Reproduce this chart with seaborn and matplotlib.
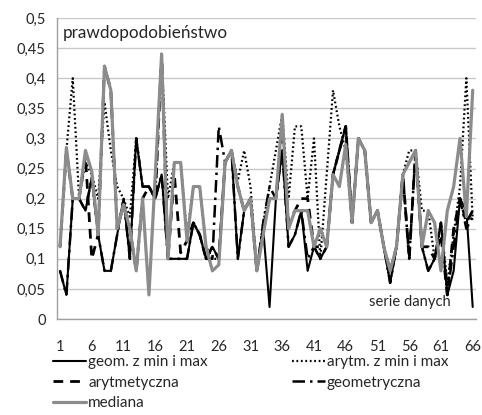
import matplotlib
matplotlib.use("Agg")
import matplotlib.pyplot as plt
import seaborn as sns
import pandas as pd

seria = list(range(1, 67))

geom_min_max = [
    0.08, 0.04, 0.20, 0.20, 0.18, 0.235, 0.14, 0.08, 0.08, 0.14,
    0.20, 0.10, 0.30, 0.22, 0.22, 0.20, 0.24, 0.10, 0.10, 0.10,
    0.10, 0.16, 0.14, 0.10, 0.12, 0.10, 0.26, 0.28, 0.10, 0.18,
    0.20, 0.08, 0.15, 0.02, 0.20, 0.28, 0.12, 0.14, 0.18, 0.08,
    0.12, 0.10, 0.12, 0.24, 0.28, 0.32, 0.16, 0.30, 0.28, 0.16,
    0.18, 0.12, 0.06, 0.12, 0.24, 0.26, 0.28, 0.12, 0.08, 0.10,
    0.16, 0.04, 0.08, 0.20, 0.18, 0.02]

arytm_min_max = [
    0.12, 0.28, 0.40, 0.20, 0.26, 0.24, 0.20, 0.36, 0.28, 0.22,
    0.20, 0.17, 0.30, 0.22, 0.22, 0.20, 0.44, 0.20, 0.26, 0.26,
    0.14, 0.22, 0.22, 0.12, 0.10, 0.10, 0.26, 0.28, 0.23, 0.28,
    0.22, 0.08, 0.16, 0.22, 0.28, 0.34, 0.20, 0.32, 0.32, 0.20,
    0.30, 0.10, 0.24, 0.38, 0.32, 0.28, 0.16, 0.30, 0.28, 0.16,
    0.18, 0.12, 0.06, 0.12, 0.24, 0.28, 0.28, 0.18, 0.18, 0.10,
    0.16, 0.06, 0.14, 0.22, 0.40, 0.165]

arytmetyczna = [
    0.12, 0.28, 0.20, 0.20, 0.27, 0.10, 0.14, 0.42, 0.38, 0.15,
    0.19, 0.15, 0.08, 0.20, 0.22, 0.20, 0.44, 0.10, 0.24, 0.11,
    0.13, 0.16, 0.14, 0.10, 0.12, 0.10, 0.26, 0.28, 0.22, 0.18,
    0.20, 0.08, 0.15, 0.20, 0.20, 0.30, 0.16, 0.18, 0.20, 0.20,
    0.12, 0.12, 0.12, 0.24, 0.28, 0.32, 0.16, 0.30, 0.28, 0.16,
    0.18, 0.12, 0.08, 0.12, 0.24, 0.10, 0.28, 0.12, 0.12, 0.10,
    0.14, 0.04, 0.15, 0.20, 0.16, 0.18]

geometryczna = [
    0.08, 0.04, 0.20, 0.20, 0.18, 0.235, 0.14, 0.08, 0.08, 0.14,
    0.20, 0.10, 0.30, 0.22, 0.22, 0.20, 0.24, 0.10, 0.10, 0.10,
    0.10, 0.16, 0.14, 0.10, 0.10, 0.32, 0.26, 0.28, 0.10, 0.18,
    0.20, 0.08, 0.16, 0.22, 0.20, 0.28, 0.12, 0.14, 0.18, 0.10,
    0.12, 0.10, 0.12, 0.24, 0.28, 0.32, 0.16, 0.30, 0.28, 0.16,
    0.18, 0.12, 0.06, 0.12, 0.24, 0.10, 0.28, 0.12, 0.08, 0.10,
    0.16, 0.04, 0.12, 0.20, 0.15, 0.17]

mediana = [
    0.12, 0.285, 0.20, 0.20, 0.28, 0.245, 0.14, 0.42, 0.38, 0.15,
    0.19, 0.15, 0.08, 0.20, 0.04, 0.24, 0.44, 0.10, 0.26, 0.26,
    0.13, 0.22, 0.22, 0.12, 0.08, 0.09, 0.26, 0.28, 0.22, 0.18,
    0.20, 0.08, 0.14, 0.20, 0.20, 0.34, 0.15, 0.18, 0.18, 0.18,
    0.12, 0.15, 0.12, 0.24, 0.22, 0.29, 0.16, 0.30, 0.28, 0.16,
    0.18, 0.12, 0.08, 0.12, 0.24, 0.26, 0.28, 0.12, 0.18, 0.16,
    0.08, 0.18, 0.22, 0.30, 0.17, 0.38]

x_labels = [1, 6, 11, 16, 21, 26, 31, 36, 41, 46, 51, 56, 61, 66]
y_ticks = [0, 0.05, 0.1, 0.15, 0.2, 0.25, 0.3, 0.35, 0.4, 0.45, 0.5]

sns.set_style("white")
plt.rcParams['font.family'] = ['Lato', 'DejaVu Sans']

fig = plt.figure(figsize=(4.82, 4.15), dpi=100)
ax = fig.add_axes([0.118, 0.2313, 0.8693, 0.7253])

series = [
    ("geom. z min i max", geom_min_max, dict(color="black", lw=1.5, linestyle="-")),
    ("arytmetyczna", arytmetyczna, dict(color="black", lw=2.0, linestyle=(0, (3.5, 2.5)))),
    ("arytm. z min i max", arytm_min_max, dict(color="black", lw=1.6, linestyle=(0, (0.8, 1.2)))),
    ("geometryczna", geometryczna, dict(color="black", lw=1.8, linestyle=(0, (5, 2, 1, 2)))),
    ("mediana", mediana, dict(color="#8c8c8c", lw=2.3, linestyle="-")),
]
handles = {}
for name, vals, st in series:
    df = pd.DataFrame({"seria": seria, "p": vals})
    sns.lineplot(data=df, x="seria", y="p", ax=ax, label=name, **st)
    handles[name] = ax.get_lines()[-1]

ax.set_xlim(0.5, 66.5)
ax.set_ylim(0, 0.5)
ax.set_yticks(y_ticks)
ax.set_yticklabels(["0" if v == 0 else (f"{v:.2f}".rstrip("0").replace(".", ",")) for v in y_ticks])
ax.set_xticks(x_labels)
ax.set_xticklabels([str(v) for v in x_labels])
ax.set_xticks([0.5 + 5 * k for k in range(14)], minor=True)
ax.tick_params(axis="x", which="major", length=0, labelsize=10.5, pad=15)
ax.tick_params(axis="x", which="minor", length=5, color="#a0a0a0", width=1, direction="out")
ax.tick_params(axis="y", which="major", length=5, color="#a0a0a0", width=1, labelsize=10.5, pad=3, direction="out")
ax.yaxis.grid(True, color="#c8c8c8", lw=1)
ax.xaxis.grid(False)
ax.set_axisbelow(True)
for s in ["top", "right"]:
    ax.spines[s].set_visible(False)
for s in ["left", "bottom"]:
    ax.spines[s].set_color("#a0a0a0")
    ax.spines[s].set_linewidth(1)
ax.set_xlabel("")
ax.set_ylabel("")

ax.text(0.013, 0.95, "prawdopodobieństwo", transform=ax.transAxes, fontsize=12.3, va="center", ha="left")
ax.text(0.745, 0.055, "serie danych", transform=ax.transAxes, fontsize=10.6, va="center", ha="left")

ax.get_legend().remove()
order = ["geom. z min i max", "arytmetyczna", "mediana", "arytm. z min i max", "geometryczna"]
fig.legend([handles[n] for n in order], order, ncol=2, loc="upper left",
           bbox_to_anchor=(0.11, 0.144), frameon=False, fontsize=11,
           handlelength=2.15, handletextpad=0.15, columnspacing=5.5,
           labelspacing=0.42, borderaxespad=0, borderpad=0)

fig.savefig("out.png", dpi=100)
